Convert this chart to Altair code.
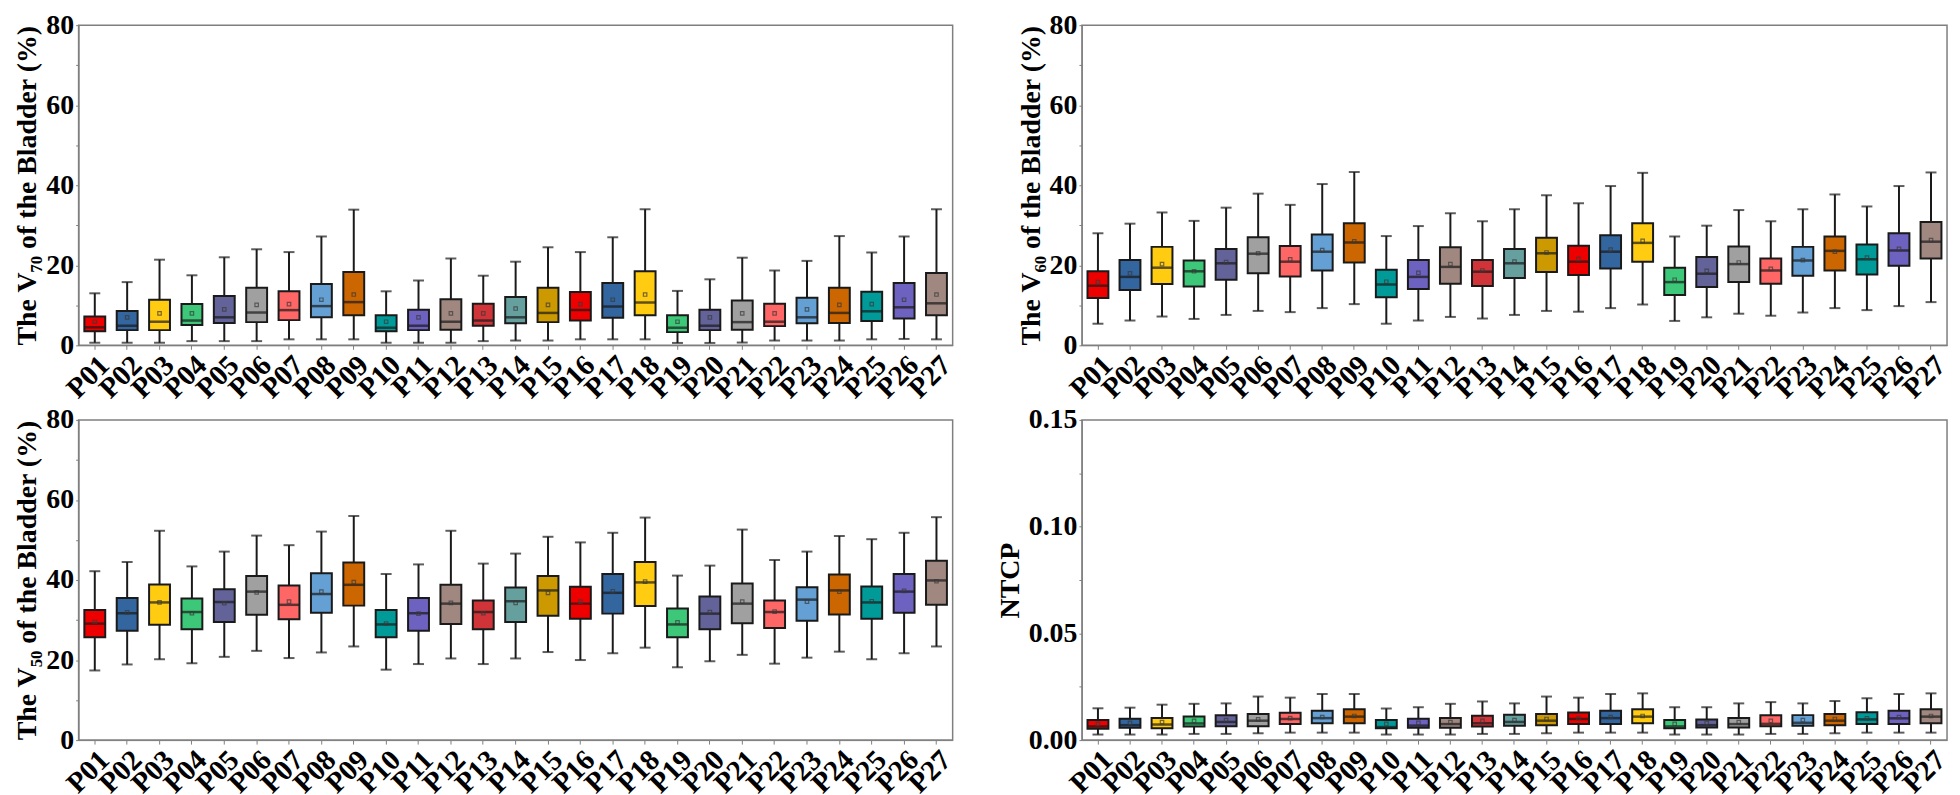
import altair as alt
import pandas as pd

patients = [f"P{i:02d}" for i in range(1, 28)]
colors = ["#EE0000", "#33659F", "#FFCC11", "#3CC878", "#636399", "#A0A0A0", "#FF6666", "#64A0D4", "#CC6600",
          "#009B98", "#6E62C0", "#A08880", "#D13438", "#66A09E", "#CC9A00", "#EE0000", "#33659F", "#FFCC11",
          "#3CC878", "#636399", "#A0A0A0", "#FF6666", "#64A0D4", "#CC6600", "#009B98", "#6E62C0", "#A08880"]

# V70
v70_lo = [0.65, 0.65, 0.65, 1.05, 1.05, 1.05, 1.5, 1.5, 1.5, 0.65, 0.65, 0.65, 1.05, 1.2, 1.2, 1.5, 1.5, 1.5,
          0.6, 0.6, 0.7, 1.2, 1.2, 1.2, 1.5, 1.6, 1.5]
v70_q1 = [3.5, 3.8, 3.8, 5.1, 5.6, 5.8, 6.3, 7.0, 7.5, 3.5, 3.8, 3.9, 4.9, 5.5, 5.8, 6.2, 6.9, 7.5,
          3.3, 3.8, 3.9, 4.8, 5.5, 5.6, 6.1, 6.7, 7.5]
v70_med = [4.5, 4.9, 5.9, 6.2, 7.0, 8.2, 8.8, 9.8, 10.8, 4.4, 4.9, 5.9, 6.2, 7.0, 8.1, 8.8, 9.7, 10.7,
           4.4, 4.9, 5.8, 5.9, 7.0, 8.1, 8.5, 9.5, 10.5]
v70_q3 = [7.2, 8.6, 11.4, 10.3, 12.3, 14.4, 13.5, 15.3, 18.3, 7.5, 8.9, 11.5, 10.4, 12.1, 14.4, 13.3, 15.6, 18.5,
          7.5, 8.9, 11.2, 10.4, 11.9, 14.4, 13.4, 15.6, 18.1]
v70_hi = [13.0, 15.8, 21.4, 17.5, 22.0, 24.0, 23.3, 27.2, 33.9, 13.5, 16.2, 21.7, 17.4, 20.9, 24.5, 23.3, 27.0, 34.0,
          13.6, 16.5, 21.9, 18.7, 21.1, 27.3, 23.2, 27.2, 34.0]
v70_mean = [5.9, 7.0, 8.0, 8.0, 9.0, 10.1, 10.3, 11.4, 12.7, 5.9, 7.0, 8.0, 8.0, 9.2, 10.1, 10.3, 11.4, 12.7,
            5.9, 7.0, 8.0, 8.0, 9.0, 10.1, 10.3, 11.4, 12.7]

# V60
v60_lo = [5.4, 6.2, 7.2, 6.6, 7.6, 8.6, 8.3, 9.3, 10.3, 5.4, 6.2, 7.1, 6.7, 7.6, 8.6, 8.4, 9.3, 10.2,
          6.1, 7.0, 7.9, 7.4, 8.2, 9.3, 8.8, 9.8, 10.8]
v60_q1 = [11.8, 13.8, 15.3, 14.7, 16.4, 18.0, 17.2, 18.7, 20.7, 12.0, 14.1, 15.4, 14.8, 16.8, 18.3, 17.6, 19.2, 20.9,
          12.6, 14.6, 15.8, 15.4, 17.4, 18.7, 17.7, 19.9, 21.7]
v60_med = [14.9, 17.1, 19.4, 18.5, 20.5, 22.9, 20.9, 23.4, 25.7, 15.2, 17.1, 19.6, 18.4, 20.5, 23.0, 20.9, 23.4, 25.6,
           15.8, 17.9, 20.3, 18.7, 21.2, 23.6, 21.5, 23.7, 25.9]
v60_q3 = [18.5, 21.3, 24.6, 21.2, 24.1, 27.0, 24.8, 27.7, 30.5, 18.9, 21.3, 24.5, 21.3, 24.1, 26.9, 24.9, 27.5, 30.5,
          19.4, 22.1, 24.7, 21.7, 24.6, 27.2, 25.2, 28.0, 30.8]
v60_hi = [28.0, 30.4, 33.2, 31.1, 34.4, 37.9, 35.1, 40.3, 43.3, 27.3, 29.8, 33.0, 31.0, 34.0, 37.5, 35.5, 39.8, 43.1,
          27.2, 29.9, 33.8, 31.0, 34.0, 37.7, 34.7, 39.8, 43.2]
v60_mean = [15.8, 18.0, 20.3, 18.5, 20.8, 23.0, 21.5, 23.8, 26.0, 15.9, 18.1, 20.3, 18.7, 20.9, 23.2, 21.6, 23.9, 26.1,
            16.4, 18.6, 20.7, 19.1, 21.3, 23.4, 21.9, 24.1, 26.3]

# V50
v50_lo = [17.4, 18.9, 20.2, 19.2, 20.8, 22.3, 20.5, 21.9, 23.4, 17.6, 19.0, 20.4, 19.0, 20.4, 22.0, 20.0, 21.7, 23.1,
          18.2, 19.7, 21.3, 19.1, 20.6, 22.1, 20.2, 21.7, 23.4]
v50_q1 = [25.7, 27.3, 28.8, 27.7, 29.5, 31.3, 30.2, 31.8, 33.6, 25.7, 27.3, 29.0, 27.7, 29.5, 31.1, 30.3, 31.6, 33.5,
          25.7, 27.7, 29.2, 28.0, 29.8, 31.4, 30.3, 31.8, 33.8]
v50_med = [29.1, 31.7, 34.4, 32.0, 34.5, 37.1, 33.8, 36.5, 38.8, 28.9, 31.7, 34.1, 32.0, 34.7, 37.4, 34.1, 36.8, 39.4,
           28.9, 31.6, 34.1, 32.0, 35.1, 37.4, 34.4, 37.1, 39.9]
v50_q3 = [32.5, 35.5, 38.9, 35.4, 37.7, 41.0, 38.6, 41.7, 44.4, 32.5, 35.5, 38.8, 34.9, 38.1, 41.0, 38.3, 41.5, 44.5,
          32.9, 35.9, 39.1, 34.9, 38.2, 41.4, 38.4, 41.5, 44.8]
v50_hi = [42.2, 44.5, 52.3, 43.4, 47.1, 51.1, 48.7, 52.1, 56.0, 41.5, 43.9, 52.3, 44.1, 46.6, 50.8, 49.4, 51.8, 55.6,
          41.1, 43.6, 52.6, 45.0, 47.1, 51.0, 50.2, 51.8, 55.7]
v50_mean = [29.5, 31.9, 34.4, 31.7, 34.2, 36.9, 34.6, 37.1, 39.5, 29.1, 31.6, 34.3, 31.7, 34.3, 36.8, 34.6, 37.2, 39.6,
            29.4, 32.0, 34.6, 32.1, 34.6, 37.1, 34.7, 37.3, 39.7]

# NTCP
ntcp_lo = [0.0026, 0.0026, 0.0026, 0.0029, 0.0029, 0.0032, 0.0035, 0.0035, 0.0035, 0.0026, 0.0026, 0.0026, 0.0029,
           0.0029, 0.0032, 0.0035, 0.0035, 0.0035, 0.0026, 0.0026, 0.0026, 0.0029, 0.0029, 0.0032, 0.0035, 0.0035, 0.0035]
ntcp_q1 = [0.0053, 0.0058, 0.0055, 0.0064, 0.0065, 0.0065, 0.0076, 0.0079, 0.0079, 0.0055, 0.0058, 0.0058, 0.0064,
           0.0067, 0.0070, 0.0076, 0.0076, 0.0079, 0.0056, 0.0059, 0.0059, 0.0065, 0.0067, 0.0070, 0.0076, 0.0076, 0.0079]
ntcp_med = [0.0064, 0.0070, 0.0073, 0.0078, 0.0085, 0.0091, 0.0099, 0.0103, 0.0110, 0.0061, 0.0068, 0.0075, 0.0079,
            0.0085, 0.0091, 0.0099, 0.0103, 0.0110, 0.0064, 0.0070, 0.0075, 0.0076, 0.0081, 0.0091, 0.0097, 0.0102, 0.0110]
ntcp_q3 = [0.0094, 0.0100, 0.0103, 0.0111, 0.0116, 0.0122, 0.0128, 0.0137, 0.0145, 0.0094, 0.0100, 0.0103, 0.0114,
           0.0119, 0.0122, 0.0129, 0.0137, 0.0145, 0.0094, 0.0097, 0.0103, 0.0116, 0.0117, 0.0122, 0.0131, 0.0137, 0.0145]
ntcp_hi = [0.0149, 0.0152, 0.0166, 0.0170, 0.0172, 0.0204, 0.0199, 0.0216, 0.0216, 0.0148, 0.0154, 0.0170, 0.0181,
           0.0172, 0.0204, 0.0199, 0.0216, 0.0219, 0.0154, 0.0154, 0.0172, 0.0178, 0.0172, 0.0183, 0.0196, 0.0216, 0.0219]
ntcp_mean = [0.0076, 0.0081, 0.0084, 0.0090, 0.0094, 0.0097, 0.0103, 0.0108, 0.0113, 0.0076, 0.0081, 0.0084, 0.0090,
             0.0094, 0.0099, 0.0103, 0.0108, 0.0113, 0.0076, 0.0081, 0.0084, 0.0090, 0.0094, 0.0099, 0.0102, 0.0108, 0.0113]

FONT = "Liberation Serif"
BLACK = "#1a1a1a"


def panel(lo, q1, med, q3, hi, mean, title, dmax, values, fmt, width, height):
    df = pd.DataFrame({"patient": patients, "lo": lo, "q1": q1, "med": med,
                       "q3": q3, "hi": hi, "mean": mean})
    major = values[::2]
    x = alt.X("patient:N", sort=patients, title=None,
              scale=alt.Scale(type="band", paddingInner=0, paddingOuter=0),
              axis=alt.Axis(labelAngle=-45, labelAlign="right", labelBaseline="top",
                            labelFont=FONT, labelFontSize=29, labelFontWeight="bold",
                            labelColor="black", tickSize=4, tickColor="#7f7f7f",
                            domainColor="#7f7f7f", labelPadding=1, grid=False))
    ysc = alt.Scale(domain=[0, dmax], nice=False, zero=True)
    expr = "indexof(" + str([round(m, 4) for m in major]) + ", round(datum.value*10000)/10000) >= 0 ? format(datum.value, '" + fmt + "') : ''"
    yax = alt.Axis(values=values, labelExpr=expr, title=title, titleFont=FONT, titleFontSize=28,
                   titleFontWeight="bold", titleColor="black", titlePadding=4,
                   labelFont=FONT, labelFontSize=28, labelFontWeight="bold", labelColor="black",
                   tickSize=3, tickColor="#7f7f7f", domainColor="#7f7f7f", labelPadding=2,
                   grid=False)
    base = alt.Chart(df)
    whisk = base.mark_rule(color=BLACK, strokeWidth=2).encode(
        x=x, y=alt.Y("lo:Q", scale=ysc, axis=yax), y2="hi:Q")
    cap_lo = base.mark_tick(color=BLACK, size=11, thickness=2).encode(x=x, y=alt.Y("lo:Q", scale=ysc))
    cap_hi = base.mark_tick(color=BLACK, size=11, thickness=2).encode(x=x, y=alt.Y("hi:Q", scale=ysc))
    box = base.mark_bar(size=21, stroke=BLACK, strokeWidth=2).encode(
        x=x, y=alt.Y("q1:Q", scale=ysc), y2="q3:Q",
        color=alt.Color("patient:N", scale=alt.Scale(domain=patients, range=colors), legend=None))
    medt = base.mark_tick(color=BLACK, size=21, thickness=2.5).encode(x=x, y=alt.Y("med:Q", scale=ysc))
    meanp = base.mark_point(shape="square", size=12, filled=False, color="#3a3a3a", strokeWidth=1.2).encode(
        x=x, y=alt.Y("mean:Q", scale=ysc))
    return alt.layer(whisk, cap_lo, cap_hi, box, medt, meanp).properties(width=width, height=height)


pct_vals = [0, 10, 20, 30, 40, 50, 60, 70, 80]
ntcp_vals = [0, 0.025, 0.05, 0.075, 0.10, 0.125, 0.15]

H = 322
p1 = panel(v70_lo, v70_q1, v70_med, v70_q3, v70_hi, v70_mean, "The V₇₀ of the Bladder (%)", 80, pct_vals, "d", 879, H)
p2 = panel(v60_lo, v60_q1, v60_med, v60_q3, v60_hi, v60_mean, "The V₆₀ of the Bladder (%)", 80, pct_vals, "d", 870, H)
p3 = panel(v50_lo, v50_q1, v50_med, v50_q3, v50_hi, v50_mean, "The V₅₀ of the Bladder (%)", 80, pct_vals, "d", 879, H)
p4 = panel(ntcp_lo, ntcp_q1, ntcp_med, ntcp_q3, ntcp_hi, ntcp_mean, "NTCP", 0.15, ntcp_vals, ".2f", 870, H)

chart = alt.concat(p1, p2, p3, p4, columns=2, spacing={"row": 0, "column": 38}).properties(
    padding={"top": 0, "left": 5, "right": 0, "bottom": 0}, background="white"
).configure_view(stroke="#7f7f7f", strokeWidth=1.5)

chart.save("out.html", embed_options={"renderer": "svg", "actions": False})
